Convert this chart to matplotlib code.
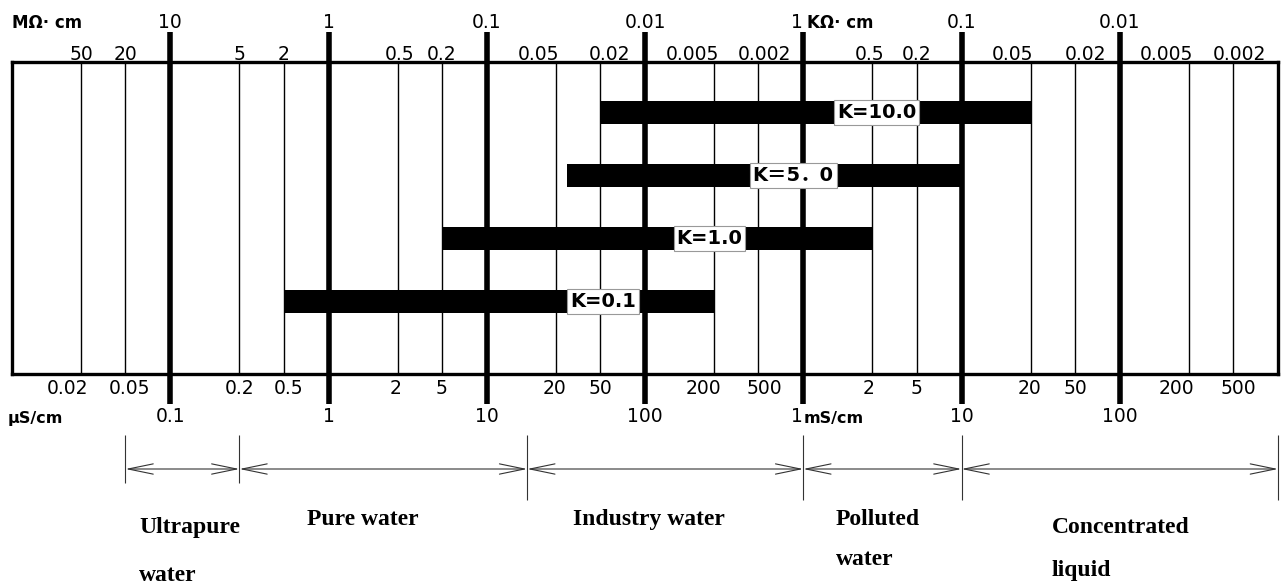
import numpy as np
import matplotlib.pyplot as plt

# conductividad en uS/cm
etiquetas_k = ['K=0.1', 'K=1.0', 'K＝5．0', 'K=10.0']
k_inicio = [0.5, 5, 25, 50]
k_fin = [200, 2000, 10000, 20000]

decadas = [0.1, 1, 10, 100, 1000, 10000, 100000]
decadas_us = ['0.1', '1', '10', '100', '1', '10', '100']
decadas_mohm = ['10', '1', '0.1', '0.01', '1', '0.1', '0.01']

menores = [0.02, 0.05, 0.2, 0.5, 2, 5, 20, 50, 200, 500,
           2000, 5000, 20000, 50000, 200000, 500000]
menores_us = ['0.02', '0.05', '0.2', '0.5', '2', '5', '20', '50', '200', '500',
              '2', '5', '20', '50', '200', '500']
menores_mohm = ['50', '20', '5', '2', '0.5', '0.2', '0.05', '0.02', '0.005', '0.002',
                '0.5', '0.2', '0.05', '0.02', '0.005', '0.002']

zonas = [['Ultrapure', 'water'], ['Pure water'], ['Industry water'],
         ['Polluted', 'water'], ['Concentrated', 'liquid']]
limites_zonas = [0.05, 0.2, 15, 1000, 10000, 1000000]

## escala del dibujo: las lineas de 2 y 5 no caen en su sitio logaritmico
nudos_log = []
nudos_pos = []
for d in range(-2, 6):
    nudos_log += [d, d + np.log10(2), d + np.log10(5)]
    nudos_pos += [d, d + 0.437, d + 0.717]
nudos_log.append(6)
nudos_pos.append(6)


def adelante(x):
    lx = np.log10(np.clip(np.asarray(x, float), 1e-12, None))
    return np.where((lx < -2) | (lx > 6), lx, np.interp(lx, nudos_log, nudos_pos))


def atras(p):
    p = np.asarray(p, float)
    lx = np.where((p < -2) | (p > 6), p, np.interp(p, nudos_pos, nudos_log))
    return 10 ** lx


W, H = 1288, 587
fig = plt.figure(figsize=(W / 100, H / 100), dpi=100)
ax = fig.add_axes([12 / W, 1 - 374 / H, 1266 / W, 312 / H])
ax.set_xscale('function', functions=(adelante, atras))
ax.set_xlim(0.01, 1e6)
ax.set_ylim(-1.146, 3.794)
for s in ax.spines.values():
    s.set_linewidth(2.4)

ax.vlines(menores, -1.146, 3.794, color='black', lw=1.0, zorder=1)
ax.vlines(decadas, -0.096, 1.096, transform=ax.get_xaxis_transform(),
          color='black', lw=4, clip_on=False, zorder=3)

ax.barh(range(len(etiquetas_k)), np.subtract(k_fin, k_inicio), left=k_inicio,
        height=0.364, color='black', zorder=2)
pos_etiquetas = [0.467, 0.551, 0.617, 0.683]
for i, (lab, xf) in enumerate(zip(etiquetas_k, pos_etiquetas)):
    ax.text(xf, i, lab, transform=ax.get_yaxis_transform(), ha='center', va='center',
            fontsize=14, fontweight='bold', family=['DejaVu Sans', 'Noto Sans CJK SC'],
            zorder=5, bbox=dict(boxstyle='square,pad=0.15', facecolor='white',
                                edgecolor='#999999', linewidth=0.8))

## escala de uS/cm abajo
ax.set_yticks([])
ax.set_xticks(decadas, decadas_us)
ax.tick_params(axis='x', which='both', length=0, labelsize=13.5)
ax.tick_params(axis='x', which='major', pad=24)
ax.xaxis.get_major_ticks()[4].label1.set_horizontalalignment('right')

## escala de resistividad arriba
arriba = fig.add_axes(ax.get_position(), frameon=False)
arriba.set_xscale('function', functions=(adelante, atras))
arriba.set_xlim(0.01, 1e6)
arriba.set_yticks([])
arriba.xaxis.tick_top()
arriba.set_xticks(decadas, decadas_mohm)
arriba.tick_params(axis='x', which='both', length=0, labelsize=13.5)
arriba.tick_params(axis='x', which='major', pad=21.5)
arriba.xaxis.get_major_ticks()[4].label2.set_horizontalalignment('right')

## etiquetas de las lineas 2 y 5 (corridas como en el dibujo original)
dx_abajo = [-14, 4, 0, 5, -2, 0, -1, 0, -11, 6, -4, 0, -1, 0, -12, 5]
dx_arriba = [0, 0, 0, 0, 2, 0, -17, 9, -22, 6, -3, 0, -18, 11, -22, 6]
for x, lab, dx in zip(menores, menores_us, dx_abajo):
    ax.annotate(lab, xy=(x, (374 - 389) / 312), xycoords=('data', 'axes fraction'),
                xytext=(dx, 0), textcoords='offset pixels', ha='center', va='center',
                fontsize=13.5, annotation_clip=False)
for x, lab, dx in zip(menores, menores_mohm, dx_arriba):
    ax.annotate(lab, xy=(x, (374 - 54) / 312), xycoords=('data', 'axes fraction'),
                xytext=(dx, 0), textcoords='offset pixels', ha='center', va='center',
                fontsize=13.5, annotation_clip=False)

fig.text(12 / W, 1 - 23 / H, 'MΩ· cm', ha='left', va='center', fontsize=12, fontweight='bold')
fig.text(8 / W, 1 - 418 / H, 'μS/cm', ha='left', va='center', fontsize=11.5, fontweight='bold')
ax.annotate('KΩ· cm', xy=(1000, (374 - 23) / 312), xycoords=('data', 'axes fraction'),
            xytext=(3, 0), textcoords='offset points', ha='left', va='center',
            fontsize=12, fontweight='bold', annotation_clip=False)
ax.annotate('mS/cm', xy=(1000, (374 - 418) / 312), xycoords=('data', 'axes fraction'),
            xytext=(0, 0), textcoords='offset points', ha='left', va='center',
            fontsize=11.5, fontweight='bold', annotation_clip=False)

## flechas de zonas
y_flecha = (374 - 469) / 312
ax.vlines(limites_zonas[:2], (374 - 483) / 312, (374 - 435) / 312,
          transform=ax.get_xaxis_transform(), color='#333333', lw=0.8, clip_on=False)
ax.vlines(limites_zonas[2:], (374 - 500) / 312, (374 - 435) / 312,
          transform=ax.get_xaxis_transform(), color='#333333', lw=0.8, clip_on=False)
for a, b in zip(limites_zonas[:-1], limites_zonas[1:]):
    ax.annotate('', xy=(b, y_flecha), xytext=(a, y_flecha),
                xycoords=('data', 'axes fraction'), annotation_clip=False,
                arrowprops=dict(arrowstyle='<->,head_length=1.8,head_width=0.37',
                                color='#333333', lw=0.8, shrinkA=0, shrinkB=0,
                                mutation_scale=10))

pos_zonas = [(139, [533, 581]), (307, [525]), (573, [525]), (836, [525, 565]), (1052, [533, 576])]
for lineas, (px, ys) in zip(zonas, pos_zonas):
    for texto, py in zip(lineas, ys):
        fig.text(px / W, 1 - py / H, texto, ha='left', va='baseline', fontsize=17,
                 fontweight='bold', family='Liberation Serif')

plt.savefig('out.png', dpi=100)
